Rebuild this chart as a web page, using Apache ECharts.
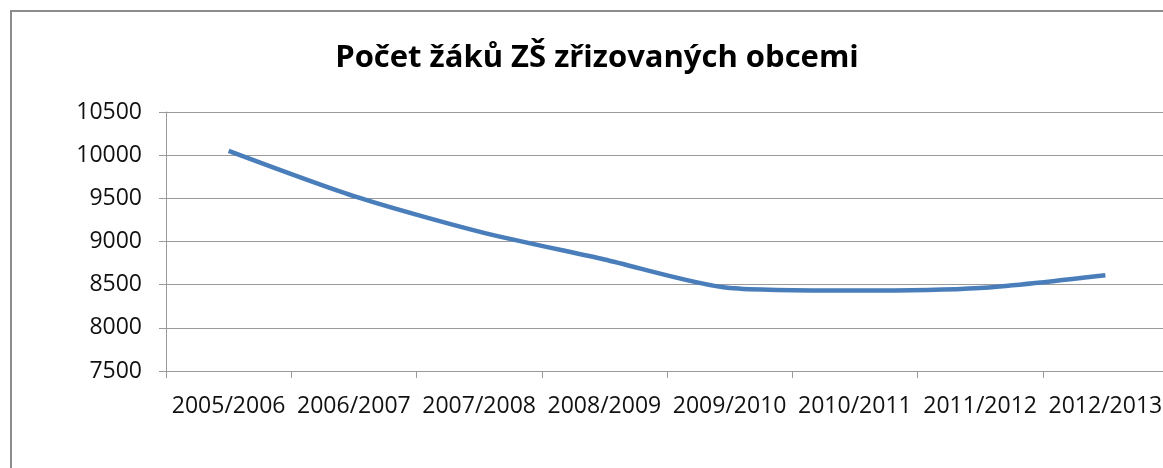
<!DOCTYPE html>
<html>
<head>
<meta charset="utf-8">
<script src="https://cdn.jsdelivr.net/npm/echarts@6/dist/echarts.min.js"></script>
<style>
html,body{margin:0;padding:0;background:#fff;}
#chart{width:1163px;height:468px;}
</style>
</head>
<body>
<div id="chart"></div>
<script>
const categories = ['2005/2006','2006/2007','2007/2008','2008/2009','2009/2010','2010/2011','2011/2012','2012/2013'];
const values = [10050, 9526, 9115, 8792, 8462, 8432, 8462, 8610];
const yTicks = [7500, 8000, 8500, 9000, 9500, 10000, 10500];
const titleText = 'Počet žáků ZŠ zřizovaných obcemi';

const chart = echarts.init(document.getElementById('chart'));
chart.setOption({
  animation: false,
  backgroundColor: '#fff',
  title: {
    text: titleText,
    left: 592,
    textAlign: 'center',
    top: 38,
    textStyle: {fontFamily: 'Open Sans', fontWeight: 'bold', fontSize: 31, color: '#000'}
  },
  graphic: [{
    type: 'rect',
    shape: {x: 11, y: 11, width: 1300, height: 600},
    style: {fill: 'none', stroke: '#8c8c8c', lineWidth: 2},
    silent: true
  }],
  grid: {left: 166, width: 1002, top: 112, bottom: 97, containLabel: false, outerBoundsMode: 'none'},
  xAxis: {
    type: 'category',
    data: categories,
    boundaryGap: true,
    axisLine: {lineStyle: {color: '#9a9a9a', width: 1}},
    axisTick: {show: true, length: 7, lineStyle: {color: '#9a9a9a'}},
    axisLabel: {fontFamily: 'Open Sans', fontSize: 23, color: '#111', margin: 24, interval: 0}
  },
  yAxis: {
    type: 'value',
    min: yTicks[0],
    max: yTicks[yTicks.length - 1],
    interval: 500,
    axisLine: {show: true, lineStyle: {color: '#9a9a9a', width: 1}},
    axisTick: {show: true, length: 7, lineStyle: {color: '#9a9a9a'}},
    splitLine: {show: true, lineStyle: {color: '#9a9a9a', width: 1}},
    axisLabel: {fontFamily: 'Open Sans', fontSize: 23, color: '#111', margin: 24, formatter: v => String(v)}
  },
  series: [{
    type: 'line',
    data: values,
    smooth: 0.25,
    symbol: 'none',
    lineStyle: {color: '#4a7ebb', width: 4.5}
  }]
});
</script>
</body>
</html>
